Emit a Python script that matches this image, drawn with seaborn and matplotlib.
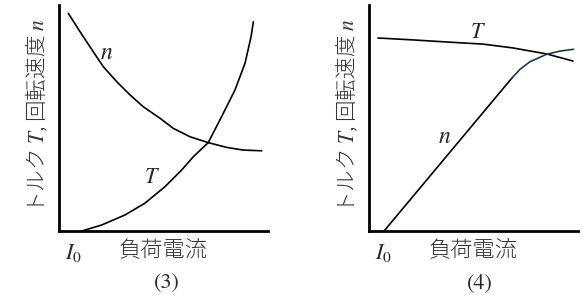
import matplotlib
matplotlib.use("Agg")
import matplotlib.pyplot as plt
import seaborn as sns

sns.set_theme(style="white")
plt.rcParams['font.family'] = ['Noto Sans CJK JP', 'DejaVu Sans']
plt.rcParams['mathtext.fontset'] = 'stix'

# Panel (3) curves (x, y on a 0-100 scale)
n3_x = [4.45, 10.05, 16.4, 21.2, 27.6, 34.0, 40.3, 48.3, 54.7, 62.7, 71.4, 80.2, 88.2, 97.0]
n3_y = [96.3, 88.2, 79.3, 72.7, 66.1, 60.2, 55.0, 49.9, 45.4, 41.7, 39.1, 37.0, 35.8, 35.5]
t3_x = [10.9, 20.4, 31.6, 41.1, 50.7, 58.7, 64.3, 71.4, 77.8, 84.2, 89.0, 91.9, 93.0]
t3_y = [0.0, 2.65, 7.1, 12.3, 19.6, 27.0, 32.9, 39.1, 50.6, 62.4, 74.2, 86.0, 92.6]

# Panel (4) curves
t4_x = [4.3, 22.0, 37.8, 54.5, 68.9, 85.2, 97.6]
t4_y = [85.4, 84.5, 83.6, 82.7, 81.0, 78.3, 75.2]
n4_line_x = [7.2, 68.3]
n4_line_y = [0.0, 67.6]
n4_curve_x = [68.3, 72.2, 77.0, 85.0, 91.4, 97.8]
n4_curve_y = [67.6, 71.5, 74.9, 78.2, 79.6, 80.4]

panel_labels = ["(3)", "(4)"]
x_label = "負荷電流"
y_label = "トルク $T$, 回転速度 $n$"

fig = plt.figure(figsize=(5.83, 2.95), dpi=100)
ax1 = fig.add_axes([59/583, 1-231/295, 209/583, 226/295])
ax2 = fig.add_axes([369/583, 1-231/295, 209/583, 226/295])

lw = 1.2
kw = dict(lw=lw, sort=False, estimator=None)
sns.lineplot(x=n3_x, y=n3_y, ax=ax1, color='black', **kw)
sns.lineplot(x=t3_x, y=t3_y, ax=ax1, color='black', **kw)
sns.lineplot(x=t4_x, y=t4_y, ax=ax2, color='black', **kw)
sns.lineplot(x=n4_line_x, y=n4_line_y, ax=ax2, color='black', **kw)
sns.lineplot(x=n4_curve_x, y=n4_curve_y, ax=ax2, color='#1b3b4c', **kw)

ax1.text(23.0, 78.8, '$n$', fontsize=17, ha='center', va='center')
ax1.text(44.5, 23.9, '$T$', fontsize=16, ha='center', va='center')
ax2.text(52.2, 88.1, '$T$', fontsize=16, ha='center', va='center')
ax2.text(36.4, 41.6, '$n$', fontsize=17, ha='center', va='center')

for ax, pl, px in [(ax1, panel_labels[0], 0.517), (ax2, panel_labels[1], 0.531)]:
    ax.set_xlim(0, 100)
    ax.set_ylim(0, 100)
    ax.set_xticks([])
    ax.set_yticks([])
    for s in ['top', 'right']:
        ax.spines[s].set_visible(False)
    for s in ['left', 'bottom']:
        ax.spines[s].set_color('black')
        ax.spines[s].set_linewidth(2.0)
    ax.set_ylabel(y_label, fontsize=15.5, color='#333333', fontweight='light')
    ax.yaxis.set_label_coords(-0.043, 0.51)
    ax.text(0.498, -0.084, x_label, transform=ax.transAxes, fontsize=16,
            ha='center', va='center', color='#333333', fontweight='light')
    ax.text(0.067, -0.097, '$I_0$', transform=ax.transAxes, fontsize=16,
            ha='center', va='center')
    ax.text(px, -0.23, pl, transform=ax.transAxes, fontsize=16,
            ha='center', va='center', family='STIXGeneral')

fig.savefig('out.png', dpi=100)
